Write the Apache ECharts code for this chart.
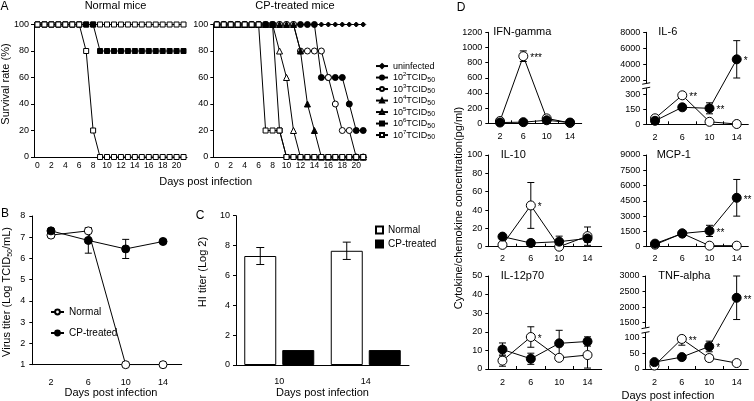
<!DOCTYPE html>
<html><head><meta charset="utf-8">
<script src="https://cdn.jsdelivr.net/npm/echarts@6/dist/echarts.min.js"></script>
<style>html,body{margin:0;padding:0;background:#fff}#c{width:754px;height:401px}</style>
</head><body><div id="c"></div>
<script>
const FONT = '"Liberation Sans", Arial, Helvetica, sans-serif';
const BLACK = '#000';

// ---------- Panel A : survival (%) by day ----------
const daysA = ['0','1','2','3','4','5','6','7','8','9','10','11','12','13','14','15','16','17','18','19','20','21'];
const normalOtherDoses = [100,100,100,100,100,100,100,100,100,100,100,100,100,100,100,100,100,100,100,100,100,100];
const normal10e6 = [100,100,100,100,100,100,100,100,100,80,80,80,80,80,80,80,80,80,80,80,80,80];
const normal10e7 = [100,100,100,100,100,100,100,80,20,0,0,0,0,0,0,0,0,0,0,0,0,0];
const cpUninfected = [100,100,100,100,100,100,100,100,100,100,100,100,100,100,100,100,100,100,100,100,100,100];
const cp10e2 = [100,100,100,100,100,100,100,100,100,100,100,100,100,100,100,60,60,60,60,40,20,20];
const cp10e3 = [100,100,100,100,100,100,100,100,100,100,100,100,80,80,80,80,60,40,20,20,0,0];
const cp10e4 = [100,100,100,100,100,100,100,100,100,100,100,100,80,40,20,0,0,0,0,0,0,0];
const cp10e5 = [100,100,100,100,100,100,100,100,100,80,60,20,0,0,0,0,0,0,0,0,0,0];
const cp10e6 = [100,100,100,100,100,100,100,100,100,20,0,0,0,0,0,0,0,0,0,0,0,0];
const cp10e7 = [100,100,100,100,100,100,100,20,20,20,0,0,0,0,0,0,0,0,0,0,0,0];

// ---------- Panel B : virus titer ----------
const daysB = ['2','6','10','14'];
const virusNormal = [7.1, 7.3, 1.0, 1.0];
const virusCP = [7.3, 6.85, 6.45, 6.8];
const virusCPErr = [0.05, 0.6, 0.45, 0.05];

// ---------- Panel C : HI titer ----------
const daysC = ['10','14'];
const hiNormal = [7.3, 7.65];
const hiNormalErr = [0.57, 0.58];
const hiCP = [1, 1];

// ---------- Panel D : cytokines (pg/ml) ----------
const cytoDays = [2, 6, 10, 14];
const ifnNormal = [30, 885, 65, 5];     const ifnNormalErr = [10, 70, 40, 5];
const ifnCP = [10, 15, 40, 10];          const ifnCPErr = [5, 5, 10, 5];
const ifnNormalStars = ['', '***', '', ''];  const ifnCPStars = ['', '', '', ''];
const il6Normal = [60, 290, 25, 3];      const il6NormalErr = [10, 10, 5, 2];
const il6CP = [35, 170, 160, 4600];      const il6CPErr = [10, 20, 55, 2350];
const il6NormalStars = ['', '**', '', ''];   const il6CPStars = ['', '', '**', '*'];
const il6Ticks = [0, 150, 300, 2000, 4000, 6000, 8000];
const il10Normal = [2, 45, 0, 11.5];     const il10NormalErr = [1, 25, 1, 10];
const il10CP = [11, 4, 5.5, 9];          const il10CPErr = [2, 3, 6, 4];
const il10NormalStars = ['', '*', '', ''];   const il10CPStars = ['', '', '', ''];
const mcpNormal = [200, 1300, 100, 100];  const mcpNormalErr = [50, 100, 20, 20];
const mcpCP = [300, 1300, 1550, 4800];    const mcpCPErr = [80, 150, 550, 1800];
const mcpNormalStars = ['', '', '', ''];     const mcpCPStars = ['', '', '**', '**'];
const il12Normal = [4.5, 17.2, 6.0, 7.5];  const il12NormalErr = [3, 5.5, 1, 7];
const il12CP = [10.5, 5.5, 13.8, 14.8];    const il12CPErr = [3.5, 3, 7, 2.5];
const il12NormalStars = ['', '*', '', ''];   const il12CPStars = ['', '', '', ''];
const tnfNormal = [11, 96, 35, 19];       const tnfNormalErr = [3, 20, 10, 8];
const tnfCP = [22, 38, 72, 2300];         const tnfCPErr = [5, 5, 17, 700];
const tnfNormalStars = ['', '**', '', ''];   const tnfCPStars = ['', '', '*', '**'];
const tnfTicks = [0, 50, 100, 1500, 2000, 2500, 3000];

// broken-axis mappings (axis geometry, not data)
function makeBroken(lowTop, highBottom, gapUnits, highScale) {
  return v => v <= lowTop ? v
    : (v >= highBottom ? lowTop + gapUnits + (v - highBottom) * highScale
       : lowTop + (v - lowTop) / (highBottom - lowTop) * gapUnits);
}
const il6Map = makeBroken(300, 2000, 143, 477 / 6000);
const tnfMap = makeBroken(100, 1500, 48, 149 / 1500);
const ident = v => v;

// grid layout: [left, top, width, height]
const GRIDS = [
  [34, 24.5, 153, 132.5],      // 0 A normal
  [213.3, 24.5, 153.4, 132.5], // 1 A CP
  [32.3, 216, 149.4, 148.7],   // 2 B
  [236, 215.7, 173, 149.3],    // 3 C
  [488.3, 32.3, 93.4, 91],     // 4 IFN
  [646.2, 32.3, 102.1, 92],    // 5 IL-6
  [488.3, 155, 113.4, 91.7],   // 6 IL-10
  [646.2, 155, 102.1, 91.7],   // 7 MCP-1
  [488.3, 276, 113.4, 93],     // 8 IL-12
  [645.5, 276, 102.8, 93]      // 9 TNF
];

const lineSt = {color: BLACK, width: 1};
const plain = v => String(v);
const labelSt = (size, margin) => ({color: BLACK, fontSize: size, fontFamily: FONT, margin: margin});

const xAxes = [], yAxes = [];
// A
[0, 1].forEach(gi => {
  xAxes.push({type: 'category', gridIndex: gi, data: daysA, boundaryGap: true,
    axisLine: {lineStyle: lineSt}, axisTick: {inside: true, length: 3, interval: 1, alignWithLabel: true, lineStyle: lineSt},
    axisLabel: Object.assign({interval: 1}, labelSt(8.5, 4)), splitLine: {show: false}});
  yAxes.push({type: 'value', gridIndex: gi, min: 0, max: 100, interval: 20,
    axisLine: {show: true, lineStyle: lineSt}, axisTick: {show: true, length: 3, lineStyle: lineSt},
    axisLabel: Object.assign({formatter: plain}, labelSt(9, 5)), splitLine: {show: false}});
});
// B
xAxes.push({type: 'category', gridIndex: 2, data: daysB, boundaryGap: true,
  axisLine: {onZero: false, lineStyle: lineSt}, axisTick: {inside: true, length: 3, lineStyle: lineSt},
  axisLabel: labelSt(9, 13), splitLine: {show: false}});
yAxes.push({type: 'value', gridIndex: 2, min: 1, max: 8, interval: 1,
  axisLine: {show: true, lineStyle: lineSt}, axisTick: {show: true, length: 3, lineStyle: lineSt},
  axisLabel: Object.assign({formatter: plain}, labelSt(9, 7)), splitLine: {show: false}});
// C
xAxes.push({type: 'category', gridIndex: 3, data: daysC, boundaryGap: true,
  axisLine: {lineStyle: lineSt}, axisTick: {show: false},
  axisLabel: labelSt(9, 12), splitLine: {show: false}});
yAxes.push({type: 'value', gridIndex: 3, min: 0, max: 10, interval: 2,
  axisLine: {show: true, lineStyle: lineSt}, axisTick: {show: true, length: 3, lineStyle: lineSt},
  axisLabel: Object.assign({formatter: plain}, labelSt(9, 6)), splitLine: {show: false}});
// D
function dX(gi, min, max, margin) {
  return {type: 'value', gridIndex: gi, min: min, max: max,
    axisLine: {onZero: false, lineStyle: lineSt},
    axisTick: {show: true, inside: true, length: 3, customValues: [4, 8, 12], lineStyle: lineSt},
    axisLabel: Object.assign({customValues: cytoDays, formatter: plain}, labelSt(9, margin)), splitLine: {show: false}};
}
function dY(gi, max, interval) {
  return {type: 'value', gridIndex: gi, min: 0, max: max, interval: interval,
    axisLine: {show: true, lineStyle: lineSt}, axisTick: {show: true, length: 3, lineStyle: lineSt},
    axisLabel: Object.assign({formatter: plain}, labelSt(9, 6)), splitLine: {show: false}};
}
function dYBroken(gi, ticks, tf) {
  const vals = ticks.map(tf);
  return {type: 'value', gridIndex: gi, min: 0, max: vals[vals.length - 1],
    axisLine: {show: true, lineStyle: lineSt},
    axisTick: {show: true, length: 3, customValues: vals, lineStyle: lineSt},
    axisLabel: Object.assign({customValues: vals, formatter: v => {
      const i = vals.findIndex(c => Math.abs(c - v) < 1e-6); return i >= 0 ? String(ticks[i]) : '';
    }}, labelSt(9, 6)), splitLine: {show: false}};
}
xAxes.push(dX(4, 0, 16, 9));   yAxes.push(dY(4, 1200, 200));
xAxes.push(dX(5, 0.7, 15.7, 9)); yAxes.push(dYBroken(5, il6Ticks, il6Map));
xAxes.push(dX(6, 0, 16, 7));   yAxes.push(dY(6, 100, 20));
xAxes.push(dX(7, 0.7, 15.7, 7)); yAxes.push(dY(7, 9000, 1500));
xAxes.push(dX(8, 0, 16, 9));   yAxes.push(dY(8, 50, 10));
xAxes.push(dX(9, 0.7, 15.7, 9)); yAxes.push(dYBroken(9, tnfTicks, tnfMap));

function lineS(name, ai, data, symbol, filled, size, extra) {
  return Object.assign({type: 'line', name: name, xAxisIndex: ai, yAxisIndex: ai, data: data,
    symbol: symbol, symbolSize: size, showAllSymbol: true, z: 3,
    lineStyle: {color: BLACK, width: 1},
    itemStyle: {color: filled ? BLACK : '#fff', borderColor: BLACK, borderWidth: 1},
    emphasis: {disabled: true}}, extra || {});
}
function errS(ai, xs, vals, errs, cap, tf, offset) {
  tf = tf || ident; offset = offset || 0;
  return {type: 'custom', xAxisIndex: ai, yAxisIndex: ai, silent: true, z: 2, clip: false,
    encode: {x: 0, y: [1, 2]},
    data: xs.map((x, i) => [x, tf(Math.max(0, vals[i] - errs[i])), tf(vals[i] + errs[i])]),
    renderItem: (params, api) => {
      const x = api.value(0);
      const lo = api.coord([x, api.value(1)]);
      const hi = api.coord([x, api.value(2)]);
      const st = {stroke: BLACK, lineWidth: 1};
      const cx = lo[0] + offset;
      return {type: 'group', children: [
        {type: 'line', shape: {x1: cx, y1: lo[1], x2: cx, y2: hi[1]}, style: st},
        {type: 'line', shape: {x1: cx - cap, y1: hi[1], x2: cx + cap, y2: hi[1]}, style: st},
        {type: 'line', shape: {x1: cx - cap, y1: lo[1], x2: cx + cap, y2: lo[1]}, style: st}
      ]};
    }};
}
const starLabel = stars => ({show: true, position: 'right', distance: 2, offset: [0, 2],
  formatter: p => stars[p.dataIndex], color: BLACK, fontSize: 10, fontFamily: FONT});

const series = [];
// A normal
series.push(lineS('normal other doses', 0, normalOtherDoses, 'rect', false, 5));
series.push(lineS('10^6TCID50', 0, normal10e6, 'rect', true, 5));
series.push(lineS('10^7TCID50', 0, normal10e7, 'rect', false, 5));
// A CP
series.push(lineS('uninfected', 1, cpUninfected, 'diamond', true, 5));
series.push(lineS('10^2TCID50', 1, cp10e2, 'circle', true, 6));
series.push(lineS('10^3TCID50', 1, cp10e3, 'circle', false, 6));
series.push(lineS('10^4TCID50', 1, cp10e4, 'triangle', true, 6));
series.push(lineS('10^5TCID50', 1, cp10e5, 'triangle', false, 6));
series.push(lineS('10^6TCID50', 1, cp10e6, 'rect', true, 5));
series.push(lineS('10^7TCID50', 1, cp10e7, 'rect', false, 5));
// B
series.push(errS(2, [0, 1, 2, 3], virusCP, virusCPErr, 3.5));
series.push(lineS('Normal', 2, virusNormal, 'circle', false, 8));
series.push(lineS('CP-treated', 2, virusCP, 'circle', true, 8));
// C
const BAR_W = 32, BAR_GAP = 6;
series.push({type: 'bar', name: 'HI Normal', xAxisIndex: 3, yAxisIndex: 3, data: hiNormal, barWidth: BAR_W,
  barGap: (BAR_GAP / BAR_W * 100) + '%', itemStyle: {color: '#fff', borderColor: BLACK, borderWidth: 1}, z: 2});
series.push({type: 'bar', name: 'HI CP-treated', xAxisIndex: 3, yAxisIndex: 3, data: hiCP, barWidth: BAR_W,
  itemStyle: {color: BLACK, borderColor: BLACK, borderWidth: 1}, z: 2});
series.push(Object.assign(errS(3, [0, 1], hiNormal, hiNormalErr, 4, ident, -(BAR_W + BAR_GAP) / 2), {z: 4}));
// D
const panels = [
  [4, ifnNormal, ifnNormalErr, ifnCP, ifnCPErr, ifnNormalStars, ifnCPStars, ident],
  [5, il6Normal, il6NormalErr, il6CP, il6CPErr, il6NormalStars, il6CPStars, il6Map],
  [6, il10Normal, il10NormalErr, il10CP, il10CPErr, il10NormalStars, il10CPStars, ident],
  [7, mcpNormal, mcpNormalErr, mcpCP, mcpCPErr, mcpNormalStars, mcpCPStars, ident],
  [8, il12Normal, il12NormalErr, il12CP, il12CPErr, il12NormalStars, il12CPStars, ident],
  [9, tnfNormal, tnfNormalErr, tnfCP, tnfCPErr, tnfNormalStars, tnfCPStars, tnfMap]
];
panels.forEach(p => {
  const [ai, nv, ne, cv, ce, ns, cs, tf] = p;
  series.push(errS(ai, cytoDays, nv, ne, 3.5, tf));
  series.push(errS(ai, cytoDays, cv, ce, 3.5, tf));
  series.push(lineS('Normal', ai, cytoDays.map((d, i) => [d, tf(nv[i])]), 'circle', false, 9, {label: starLabel(ns)}));
  series.push(lineS('CP-treated', ai, cytoDays.map((d, i) => [d, tf(cv[i])]), 'circle', true, 9, {label: starLabel(cs)}));
});

const legendNamesA = ['uninfected','10^2TCID50','10^3TCID50','10^4TCID50','10^5TCID50','10^6TCID50','10^7TCID50'];

const option = {
  animation: false,
  backgroundColor: '#fff',
  textStyle: {fontFamily: FONT, color: BLACK},
  grid: GRIDS.map(g => ({left: g[0], top: g[1], width: g[2], height: g[3]})),
  xAxis: xAxes,
  yAxis: yAxes,
  legend: [
    {data: legendNamesA, orient: 'vertical', left: 370, top: 55.3, itemWidth: 12, itemHeight: 5, itemGap: 0,
     selectedMode: false,
     formatter: n => n === 'uninfected' ? '{n|uninfected}' : '{n|10}{sup|' + n.charAt(3) + '}{n|TCID}{sub|50}',
     textStyle: {lineHeight: 11.5, rich: {
       n: {fontSize: 9, fontFamily: FONT, color: BLACK, lineHeight: 11.5},
       sup: {fontSize: 6, fontFamily: FONT, color: BLACK, lineHeight: 6, verticalAlign: 'top'},
       sub: {fontSize: 7, fontFamily: FONT, color: BLACK, lineHeight: 7, verticalAlign: 'bottom'}}}},
    {data: ['Normal', 'CP-treated'], orient: 'vertical', left: 45, top: 301, itemWidth: 13, itemHeight: 6, itemGap: 9,
     selectedMode: false, textStyle: {fontSize: 10, fontFamily: FONT, color: BLACK, lineHeight: 12}},
    {data: ['HI Normal', 'HI CP-treated'], orient: 'vertical', left: 370, top: 219, itemWidth: 7, itemHeight: 7, itemGap: 2,
     icon: 'rect', selectedMode: false, formatter: n => n.replace('HI ', ''),
     textStyle: {fontSize: 10, fontFamily: FONT, color: BLACK, lineHeight: 12}}
  ],
  series: series
};

const chart = echarts.init(document.getElementById('c'), null, {renderer: 'canvas'});
chart.setOption(option);

function txt(str, x, y, size, rot, align) {
  return {type: 'text', x: x, y: y, rotation: rot || 0, z: 100,
    style: {text: str, fontSize: size, fontFamily: FONT, fill: BLACK,
      align: align || 'center', textAlign: align || 'center', verticalAlign: 'middle', textVerticalAlign: 'middle'}};
}
const R = Math.PI / 2;
const graphics = [
  txt('A', 0.5, 7, 12, 0, 'left'),
  txt('Normal mice', 115.5, 6, 11),
  txt('CP-treated mice', 295, 6, 11),
  txt('Survival rate (%)', 6, 84, 11, R),
  txt('Days post infection', 205.7, 182.3, 11),
  txt('B', 5, 214, 12),
  txt('C', 200, 216, 12),
  {type: 'text', x: 7, y: 292, rotation: R, z: 100,
   style: {text: '{a|Virus titer (Log TCID}{s|50}{a|/mL)}', align: 'center', verticalAlign: 'middle',
     textAlign: 'center', textVerticalAlign: 'middle',
     rich: {a: {fontSize: 11, fontFamily: FONT, fill: BLACK, color: BLACK, lineHeight: 13},
            s: {fontSize: 7, fontFamily: FONT, fill: BLACK, color: BLACK, lineHeight: 7, verticalAlign: 'bottom'}}}},
  txt('Days post infection', 111, 392.7, 11),
  txt('HI titer (Log 2)', 203, 272, 11, R),
  txt('Days post infection', 322.5, 393.3, 11),
  txt('D', 461, 8, 12),
  txt('IFN-gamma', 493.3, 32.3, 11, 0, 'left'),
  txt('IL-6', 658.3, 32.3, 11, 0, 'left'),
  txt('IL-10', 500.7, 155, 11, 0, 'left'),
  txt('MCP-1', 656.7, 155, 11, 0, 'left'),
  txt('IL-12p70', 500.7, 276, 11, 0, 'left'),
  txt('TNF-alpha', 658.3, 276, 11, 0, 'left'),
  txt('Cytokine/chemokine concentration(pg/ml)', 459, 208, 11, R),
  txt('Days post infection', 668, 396, 11)
];
// axis-break marks placed through the axes' own scales
[[5, 0.7, il6Map(300) + 0.6 * 143], [9, 0.7, tnfMap(100) + 0.5 * 48]].forEach(b => {
  const p = chart.convertToPixel({gridIndex: b[0]}, [b[1], b[2]]);
  const px = p[0], py = p[1];
  graphics.push({type: 'rect', z: 100, shape: {x: px - 4, y: py - 2.5, width: 8, height: 5}, style: {fill: '#fff'}});
  graphics.push({type: 'line', z: 101, shape: {x1: px - 4, y1: py - 1.5, x2: px + 4, y2: py - 3}, style: {stroke: BLACK, lineWidth: 1}});
  graphics.push({type: 'line', z: 101, shape: {x1: px - 4, y1: py + 3, x2: px + 4, y2: py + 1.5}, style: {stroke: BLACK, lineWidth: 1}});
});
chart.setOption({graphic: graphics});
</script>
</body></html>
